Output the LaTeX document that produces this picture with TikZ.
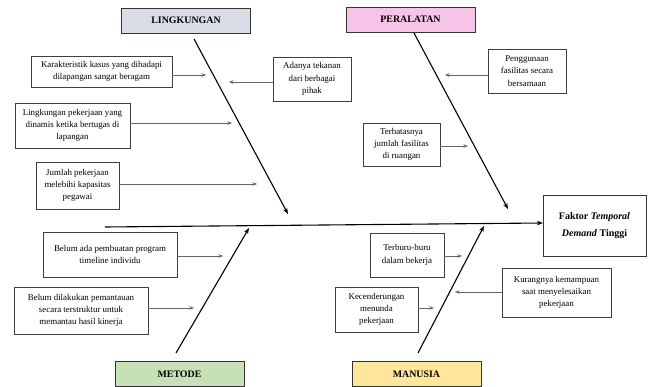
\documentclass[tikz,border=0pt]{standalone}
\usepackage{fontspec}
\setmainfont{Liberation Serif}
\usetikzlibrary{arrows.meta}
\definecolor{envfill}{HTML}{D8DDE6}
\definecolor{toolfill}{HTML}{F5C4E6}
\definecolor{methfill}{HTML}{C7E0B6}
\definecolor{manfill}{HTML}{FFE69B}
\begin{document}
\begin{tikzpicture}[x=1pt,y=-1pt,
  category/.style={draw=black!80, line width=0.9pt, inner sep=0pt,
    minimum width=129pt, minimum height=25pt,
    font=\fontsize{9.9}{11}\selectfont\bfseries},
  cause/.style={draw=black!75, line width=0.6pt, inner sep=0pt, align=center,
    font=\fontsize{8.9}{12.3}\selectfont},
  effect/.style={draw=black!80, line width=0.8pt, inner sep=0pt, align=center,
    minimum width=103pt, minimum height=61pt,
    font=\fontsize{10}{17}\selectfont\bfseries},
  bone/.style={line width=1.1pt, -{Stealth[length=6pt,width=4.5pt]}},
  feeder/.style={draw=black!60, line width=0.5pt, -{Stealth[length=4.5pt,width=3.5pt]}}]
\useasboundingbox (0,0) rectangle (651,387);

% category heads
\node[category, fill=envfill]  (env)  at (186,20.5)    {LINGKUNGAN};
\node[category, fill=toolfill] (tool) at (410.5,19.5)  {PERALATAN};
\node[category, fill=methfill] (meth) at (179.5,374)   {METODE};
\node[category, fill=manfill]  (man)  at (416.5,374)   {MANUSIA};

% effect
\node[effect] (res) at (594.5,225.5) {Faktor \textit{Temporal}\\\textit{Demand} Tinggi};

% spine
\coordinate (s0) at (105,227);
\coordinate (s1) at (543,223);
\draw[bone] (s0) -- (s1);

% bones
\coordinate (b1a) at (194,39);  \coordinate (b1b) at (288,214);
\coordinate (b2a) at (414,33);  \coordinate (b2b) at (508,209);
\coordinate (b3a) at (176,353); \coordinate (b3b) at (249,228);
\coordinate (b4a) at (418,353); \coordinate (b4b) at (484,226);
\draw[bone] (b1a) -- (b1b);
\draw[bone] (b2a) -- (b2b);
\draw[bone] (b3a) -- (b3b);
\draw[bone] (b4a) -- (b4b);

% causes: environment
\node[cause, minimum width=141pt, minimum height=31pt] (c1) at (101.5,71.5)
  {Karakteristik kasus yang dihadapi\\dilapangan sangat beragam};
\node[cause, minimum width=78pt, minimum height=44pt] (c2) at (312,79)
  {Adanya tekanan\\dari berbagai\\pihak};
\node[cause, minimum width=115pt, minimum height=45pt] (c3) at (72.5,125.5)
  {Lingkungan pekerjaan yang\\dinamis ketika bertugas di\\lapangan};
\node[cause, minimum width=83pt, minimum height=47pt] (c4) at (77.5,185.5)
  {Jumlah pekerjaan\\melebihi kapasitas\\pegawai};

% causes: equipment
\node[cause, minimum width=78pt, minimum height=44pt] (c5) at (527,71)
  {Penggunaan\\fasilitas secara\\bersamaan};
\node[cause, minimum width=77pt, minimum height=43pt] (c6) at (401.5,144.5)
  {Terbatasnya\\jumlah fasilitas\\di ruangan};

% causes: method
\node[cause, minimum width=134pt, minimum height=45pt] (c7) at (110,254.5)
  {Belum ada pembuatan program\\timeline individu};
\node[cause, minimum width=134pt, minimum height=47pt] (c8) at (81,310.5)
  {Belum dilakukan pemantauan\\secara terstruktur untuk\\memantau hasil kinerja};

% causes: people
\node[cause, minimum width=74pt, minimum height=44pt] (c9) at (407,255)
  {Terburu-buru\\dalam bekerja};
\node[cause, minimum width=83pt, minimum height=45pt] (c10) at (376.5,309.5)
  {Kecenderungan\\menunda\\pekerjaan};
\node[cause, minimum width=109pt, minimum height=49pt] (c11) at (556.5,292.5)
  {Kurangnya kemampuan\\saat menyelesaikan\\pekerjaan};

% feeder arrow tips
\coordinate (t1) at (206,75);
\coordinate (t2) at (229,82);
\coordinate (t3) at (232,123);
\coordinate (t4) at (257,184);
\coordinate (t5) at (445,75);
\coordinate (t6) at (468,146);
\coordinate (t7) at (223,256);
\coordinate (t8) at (194,308);
\coordinate (t9) at (462,256);
\coordinate (t10) at (434,308);
\coordinate (t11) at (455,292);

\draw[feeder] (c1.east |- t1) -- (t1);
\draw[feeder] (c2.west |- t2) -- (t2);
\draw[feeder] (c3.east |- t3) -- (t3);
\draw[feeder] (c4.east |- t4) -- (t4);
\draw[feeder] (c5.west |- t5) -- (t5);
\draw[feeder] (c6.east |- t6) -- (t6);
\draw[feeder] (c7.east |- t7) -- (t7);
\draw[feeder] (c8.east |- t8) -- (t8);
\draw[feeder] (c9.east |- t9) -- (t9);
\draw[feeder] (c10.east |- t10) -- (t10);
\draw[feeder] (c11.west |- t11) -- (t11);
\end{tikzpicture}
\end{document}
